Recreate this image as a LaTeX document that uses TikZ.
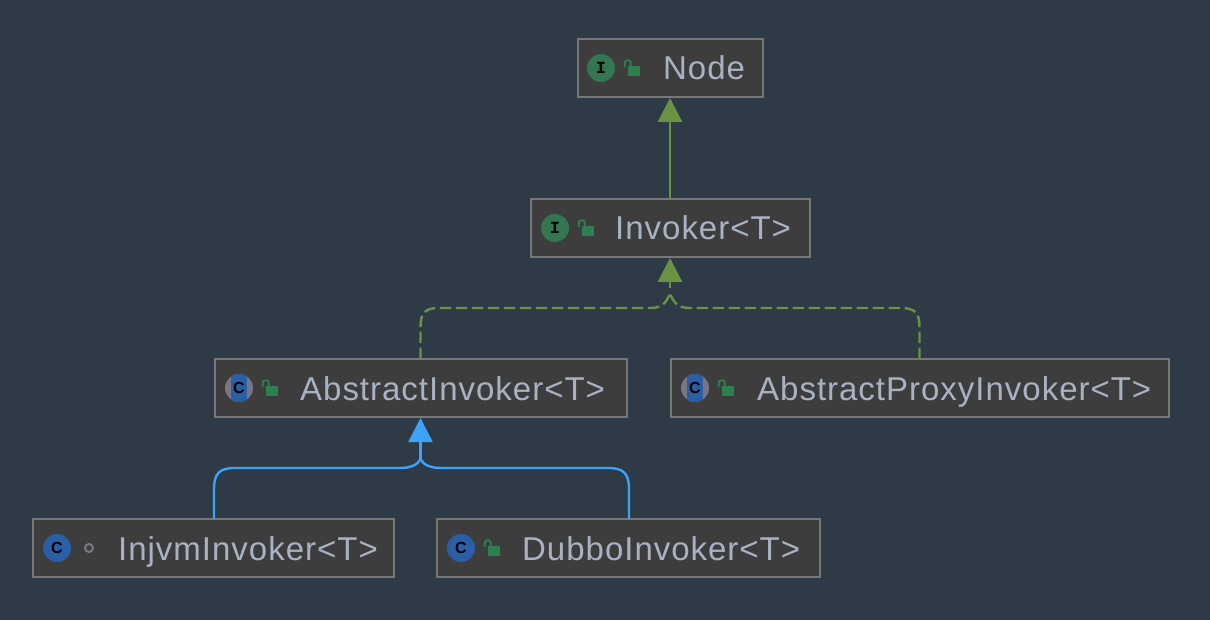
\documentclass[tikz,border=0pt]{standalone}
\usepackage{xcolor}
\usepackage{fontspec}
\setmainfont[LetterSpace=3]{Liberation Sans}
\newfontfamily\iconmono{Liberation Mono}
\newfontfamily\iconsans{Liberation Sans}
\usetikzlibrary{arrows.meta}
\definecolor{canvas}{HTML}{2E3A46}
\definecolor{boxfill}{HTML}{3D3D3D}
\definecolor{boxline}{HTML}{777777}
\definecolor{nametext}{HTML}{A9B2C3}
\definecolor{implgreen}{HTML}{6A9445}
\definecolor{extblue}{HTML}{3FA2FA}
\definecolor{ifacegreen}{HTML}{33764F}
\definecolor{classblue}{HTML}{2A5FA6}
\definecolor{lockgreen}{HTML}{2F8050}
\definecolor{dotgray}{HTML}{7A7585}

\begin{document}
\begin{tikzpicture}[
  x=1pt, y=-1pt,
  box/.style={fill=boxfill, draw=boxline, line width=2pt, minimum height=58pt, inner sep=0pt, outer sep=0pt},
  classname/.style={anchor=base west, inner sep=0pt, text=nametext, font=\fontsize{33}{36}\selectfont},
  iconbase/.style={circle, minimum size=28pt, inner sep=0pt, text=black},
  ifaceicon/.style={iconbase, fill=ifacegreen, font=\iconmono\bfseries\fontsize{17}{17}\selectfont},
  classicon/.style={iconbase, fill=classblue, font=\iconsans\bfseries\fontsize{16}{16}\selectfont},
  abstracticon/.style={iconbase, fill=dotgray, font=\iconsans\bfseries\fontsize{16}{16}\selectfont,
    path picture={\fill[classblue] ([xshift=-8pt]path picture bounding box.north) rectangle ([xshift=8pt]path picture bounding box.south);}},
  lock/.style={minimum width=12pt, minimum height=10pt, inner sep=0pt, fill=lockgreen, yshift=-3pt,
    append after command={\pgfextra{\draw[lockgreen, line width=1.8pt, rounded corners=2.5pt]
      ([shift={(-3,1)}]\tikzlastnode.north west) -- ++(0,-6.5) -- ++(6,0) -- ++(0,5.5);}}},
  privdot/.style={circle, draw=dotgray, line width=2pt, minimum size=8pt, inner sep=0pt},
  extarrow/.style={-{Triangle[length=24pt, width=24pt]}, line width=2.4pt, shorten >=1pt},
  implline/.style={line width=2.4pt, color=implgreen, dash pattern=on 11.5pt off 4.5pt},
  blueline/.style={line width=2.4pt, color=extblue}
]
\fill[canvas] (0,0) rectangle (1210,620);
\useasboundingbox (0,0) rectangle (1210,620);

\node[box, minimum width=185pt] (node) at (670,68) {};
\node[box, minimum width=279pt] (invoker) at (670,228) {};
\node[box, minimum width=412pt] (abstractinvoker) at (420.5,388) {};
\node[box, minimum width=498pt] (proxyinvoker) at (919.5,388) {};
\node[box, minimum width=361pt] (injvminvoker) at (213,548) {};
\node[box, minimum width=383pt] (dubboinvoker) at (628,548) {};

\node[ifaceicon] (nodeicon) at (601,68) {I};
\node[lock] (nodelock) at (634,68) {};
\node[classname] (nodename) at (663,80) {Node};

\node[ifaceicon] (invokericon) at (555,228) {I};
\node[lock] (invokerlock) at (588,228) {};
\node[classname] (invokername) at (615,240) {Invoker<T>};

\node[abstracticon] (abstracticn) at (239,388) {C};
\node[lock] (abstractlock) at (272,388) {};
\node[classname] (abstractname) at (300,400) {AbstractInvoker<T>};

\node[abstracticon] (proxyicon) at (695,388) {C};
\node[lock] (proxylock) at (728,388) {};
\node[classname] (proxyname) at (757,400) {AbstractProxyInvoker<T>};

\node[classicon] (injvmicon) at (57,548) {C};
\node[privdot] (injvmdot) at (89,548) {};
\node[classname] (injvmname) at (118,560) {InjvmInvoker<T>};

\node[classicon] (dubboicon) at (461,548) {C};
\node[lock] (dubbolock) at (494,548) {};
\node[classname] (dubboname) at (522,560) {DubboInvoker<T>};

\coordinate (impljoin) at (670,293);
\coordinate (implstem) at (670,288);
\coordinate (extjoin) at (420.5,459);

% green inheritance
\draw[extarrow, color=implgreen] (invoker.north) -- (node.south);
\draw[implline] (abstractinvoker.north) -- (420.5,327) .. controls (420.5,313) and (425,308) .. (439,308) -- (651,308) .. controls (662,308) and (667,302) .. (impljoin);
\draw[implline] (proxyinvoker.north) -- (919.5,327) .. controls (919.5,313) and (915,308) .. (901,308) -- (689,308) .. controls (678,308) and (673,302) .. (impljoin);
\draw[extarrow, color=implgreen] (implstem) -- (invoker.south);

% blue inheritance
\draw[blueline] ([xshift=1pt]injvminvoker.north) -- (214,489) .. controls (214,473) and (220,468) .. (235,468) -- (400,468) .. controls (410,468) and (418,465) .. (extjoin);
\draw[blueline] ([xshift=1pt]dubboinvoker.north) -- (629,489) .. controls (629,473) and (623,468) .. (608,468) -- (441,468) .. controls (431,468) and (423,465) .. (extjoin);
\draw[extarrow, color=extblue] (extjoin) -- (abstractinvoker.south);

\end{tikzpicture}
\end{document}
